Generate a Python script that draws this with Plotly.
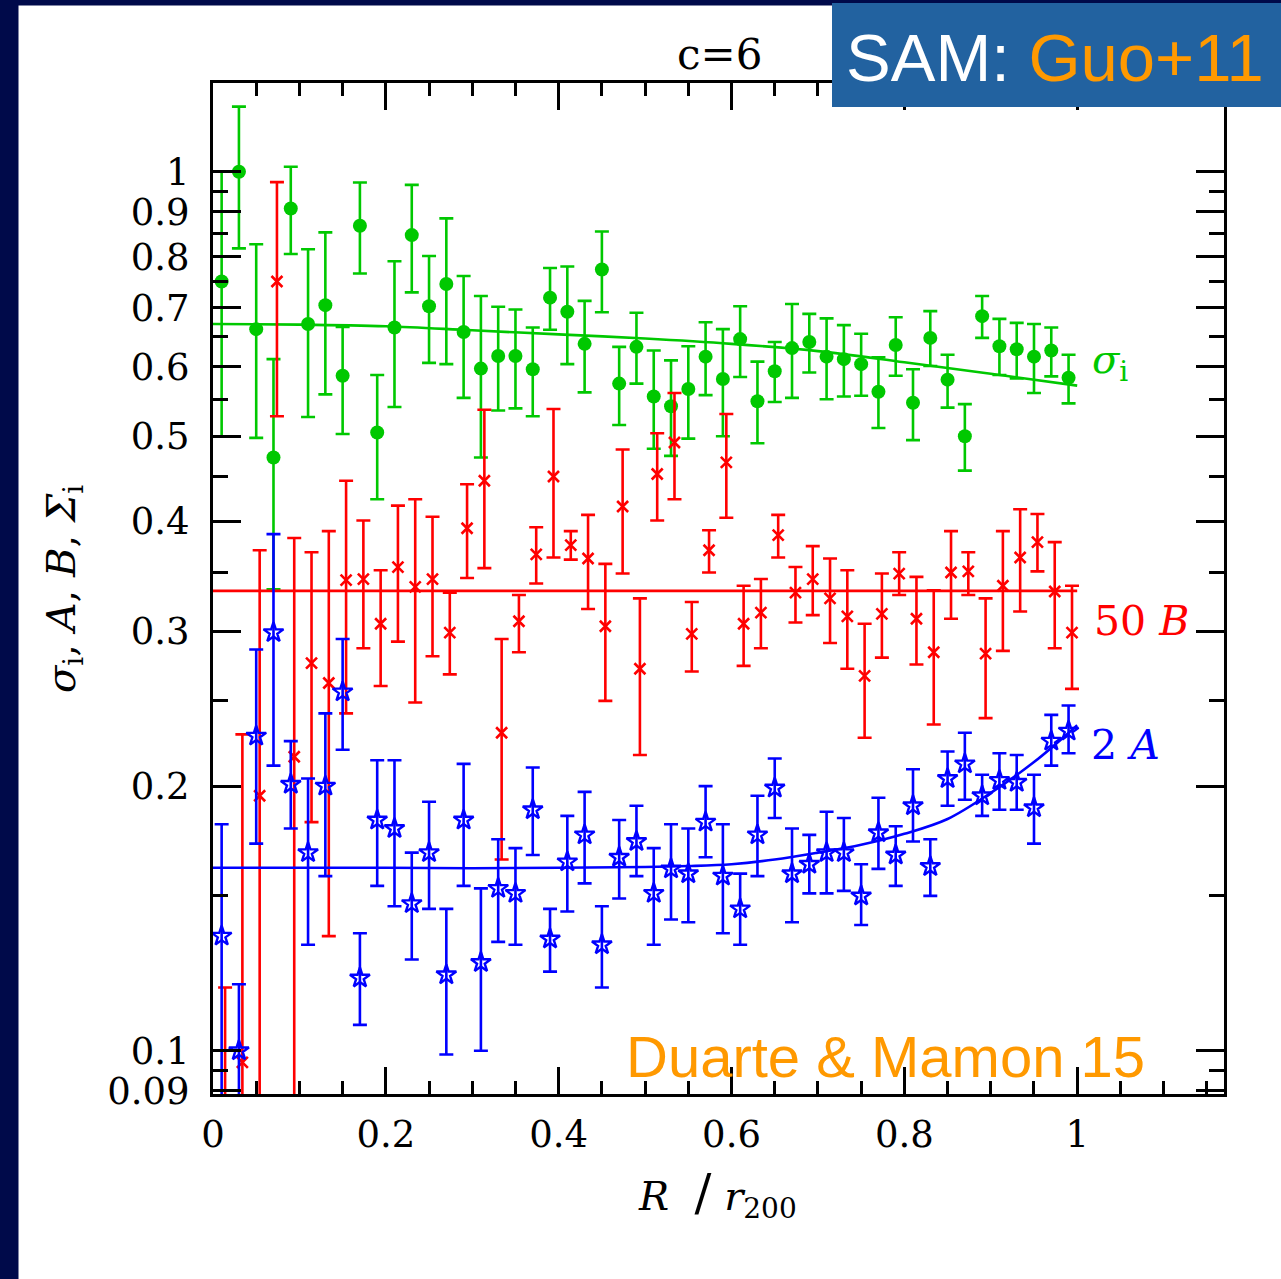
import numpy as np
import plotly.graph_objects as go

# ---- data -----------------------------------------------------------------
R = [round(0.01 + 0.02 * i, 3) for i in range(50)]          # bin centres, R / r200
R_B = [round(r + 0.004, 3) for r in R]                      # 50B drawn slightly shifted

sigma = [0.750, 1.000, 0.662, 0.473, 0.908, 0.671, 0.705, 0.586, 0.868, 0.505,
         0.665, 0.847, 0.703, 0.745, 0.657, 0.597, 0.617, 0.617, 0.596, 0.719,
         0.693, 0.637, 0.774, 0.574, 0.632, 0.555, 0.541, 0.566, 0.616, 0.581,
         0.645, 0.548, 0.593, 0.630, 0.640, 0.616, 0.612, 0.604, 0.562, 0.635,
         0.546, 0.647, 0.580, 0.500, 0.685, 0.633, 0.628, 0.616, 0.626, 0.583]
sigma_hi = [1.000, 1.186, 0.827, 0.612, 1.013, 0.816, 0.853, 0.666, 0.972, 0.587,
            0.791, 0.966, 0.802, 0.885, 0.761, 0.722, 0.702, 0.697, 0.665, 0.777,
            0.780, 0.713, 0.855, 0.632, 0.691, 0.626, 0.610, 0.633, 0.674, 0.662,
            0.703, 0.608, 0.640, 0.707, 0.689, 0.681, 0.669, 0.654, 0.615, 0.683,
            0.596, 0.694, 0.619, 0.544, 0.722, 0.680, 0.673, 0.671, 0.665, 0.619]
sigma_lo = [0.500, 0.818, 0.498, 0.335, 0.806, 0.526, 0.558, 0.503, 0.766, 0.424,
            0.540, 0.729, 0.606, 0.604, 0.553, 0.473, 0.535, 0.538, 0.527, 0.661,
            0.604, 0.561, 0.692, 0.515, 0.574, 0.484, 0.475, 0.497, 0.557, 0.500,
            0.584, 0.491, 0.547, 0.553, 0.591, 0.551, 0.555, 0.556, 0.511, 0.586,
            0.495, 0.601, 0.539, 0.457, 0.647, 0.587, 0.582, 0.560, 0.585, 0.545]

B50 = [0.075, 0.097, 0.195, 0.750, 0.216, 0.276, 0.262, 0.343, 0.344, 0.306,
       0.355, 0.337, 0.344, 0.299, 0.393, 0.445, 0.230, 0.308, 0.367, 0.450,
       0.376, 0.363, 0.304, 0.416, 0.272, 0.453, 0.492, 0.298, 0.371, 0.467,
       0.306, 0.315, 0.386, 0.332, 0.344, 0.327, 0.312, 0.267, 0.314, 0.349,
       0.310, 0.284, 0.350, 0.351, 0.283, 0.338, 0.364, 0.379, 0.333, 0.299]
B50_hi = [0.118, 0.229, 0.371, 0.973, 0.383, 0.369, 0.390, 0.445, 0.401, 0.352,
          0.417, 0.424, 0.405, 0.332, 0.441, 0.536, 0.294, 0.330, 0.394, 0.537,
          0.390, 0.407, 0.358, 0.483, 0.327, 0.504, 0.560, 0.324, 0.391, 0.530,
          0.338, 0.344, 0.407, 0.355, 0.375, 0.363, 0.352, 0.306, 0.349, 0.369,
          0.346, 0.334, 0.390, 0.369, 0.327, 0.390, 0.413, 0.408, 0.379, 0.338]
B50_lo = [0.040, 0.040, 0.050, 0.527, 0.050, 0.182, 0.135, 0.242, 0.287, 0.260,
          0.292, 0.249, 0.281, 0.268, 0.345, 0.354, 0.165, 0.284, 0.340, 0.364,
          0.362, 0.318, 0.250, 0.349, 0.217, 0.401, 0.424, 0.270, 0.350, 0.404,
          0.274, 0.287, 0.364, 0.307, 0.313, 0.291, 0.272, 0.227, 0.280, 0.330,
          0.275, 0.235, 0.310, 0.330, 0.239, 0.285, 0.316, 0.351, 0.287, 0.258]

A2 = [0.135, 0.100, 0.228, 0.299, 0.201, 0.168, 0.200, 0.256, 0.121, 0.183,
      0.179, 0.147, 0.168, 0.122, 0.183, 0.126, 0.153, 0.151, 0.188, 0.134,
      0.164, 0.176, 0.132, 0.166, 0.173, 0.151, 0.161, 0.159, 0.182, 0.158,
      0.145, 0.176, 0.199, 0.159, 0.163, 0.168, 0.168, 0.150, 0.177, 0.167,
      0.190, 0.162, 0.204, 0.212, 0.195, 0.203, 0.202, 0.189, 0.225, 0.231]
A2_hi = [0.181, 0.119, 0.286, 0.387, 0.225, 0.204, 0.242, 0.294, 0.136, 0.214,
         0.214, 0.168, 0.192, 0.145, 0.212, 0.153, 0.174, 0.170, 0.210, 0.145,
         0.185, 0.197, 0.146, 0.183, 0.190, 0.170, 0.181, 0.179, 0.200, 0.181,
         0.159, 0.195, 0.215, 0.179, 0.176, 0.187, 0.184, 0.163, 0.194, 0.180,
         0.209, 0.174, 0.219, 0.230, 0.206, 0.218, 0.217, 0.206, 0.241, 0.247]
A2_lo = [0.060, 0.060, 0.172, 0.211, 0.179, 0.132, 0.158, 0.220, 0.107, 0.154,
         0.146, 0.127, 0.145, 0.099, 0.154, 0.100, 0.133, 0.132, 0.167, 0.123,
         0.144, 0.155, 0.118, 0.149, 0.158, 0.132, 0.141, 0.140, 0.166, 0.136,
         0.132, 0.158, 0.184, 0.140, 0.151, 0.151, 0.152, 0.139, 0.161, 0.154,
         0.173, 0.150, 0.190, 0.193, 0.185, 0.188, 0.188, 0.172, 0.211, 0.218]

# best-fit model curves
fit_R_sigma = [0.0, 0.1, 0.2, 0.3, 0.4, 0.5, 0.6, 0.7, 0.8, 0.9, 1.0]
fit_sigma = [0.671, 0.670, 0.667, 0.660, 0.653, 0.646, 0.637, 0.625, 0.607, 0.589, 0.571]
fit_R_B = [0.0, 1.0]
fit_B50 = [0.3335, 0.3335]
fit_R_A = [0.0, 0.1, 0.2, 0.3, 0.4, 0.5, 0.55, 0.6, 0.65, 0.7, 0.75, 0.8, 0.85, 0.9, 0.95, 1.0]
fit_A2 = [0.1615, 0.1615, 0.1615, 0.1613, 0.1615, 0.1618, 0.1622, 0.163, 0.165, 0.168,
          0.1715, 0.1765, 0.1835, 0.1965, 0.213, 0.2346]

# axis ticks
x_major = [0, 0.2, 0.4, 0.6, 0.8, 1.0]
x_major_text = ["0", "0.2", "0.4", "0.6", "0.8", "1"]
x_minor = [0.05, 0.1, 0.15, 0.25, 0.3, 0.35, 0.45, 0.5, 0.55, 0.65, 0.7, 0.75,
           0.85, 0.9, 0.95, 1.05, 1.1, 1.15]
y_major = [0.09, 0.1, 0.2, 0.3, 0.4, 0.5, 0.6, 0.7, 0.8, 0.9, 1.0]
y_major_text = ["0.09", "0.1", "0.2", "0.3", "0.4", "0.5", "0.6", "0.7", "0.8", "0.9", "1"]
y_minor = [0.095, 0.15, 0.25, 0.35, 0.45, 0.55, 0.65, 0.75, 0.85, 0.95]

# ---- layout geometry ------------------------------------------------------
W, H = 1281, 1279
L, Rm, T, Bm = 213, 57, 83, 185
PW, PH = W - L - Rm, H - T - Bm

def px(xp):
    return (xp - L) / PW

def py(yp):
    return (H - Bm - yp) / PH

GREEN, RED, BLUE = "#00c800", "#ff0000", "#0000ff"
ORANGE, NAVY, BOX = "#ff9900", "#000a4a", "#2262a0"
SERIF = "DejaVu Serif"
SANS = "Liberation Sans"

def errs(c, hi, lo):
    c, hi, lo = map(np.asarray, (c, hi, lo))
    return (hi - c).tolist(), (c - lo).tolist()

fig = go.Figure()

# sigma_i : filled circles
up, dn = errs(sigma, sigma_hi, sigma_lo)
fig.add_trace(go.Scatter(
    x=R, y=sigma, mode="markers",
    marker=dict(symbol="circle", size=14, color=GREEN),
    error_y=dict(type="data", symmetric=False, array=up, arrayminus=dn,
                 color=GREEN, thickness=2.6, width=7)))
fig.add_trace(go.Scatter(x=fit_R_sigma, y=fit_sigma, mode="lines",
                         line=dict(color=GREEN, width=2.6, shape="spline")))

# 50 B : crosses
up, dn = errs(B50, B50_hi, B50_lo)
fig.add_trace(go.Scatter(
    x=R_B, y=B50, mode="markers",
    marker=dict(symbol="x-thin", size=11, color=RED, line=dict(color=RED, width=2.6)),
    error_y=dict(type="data", symmetric=False, array=up, arrayminus=dn,
                 color=RED, thickness=2.6, width=7)))
fig.add_trace(go.Scatter(x=fit_R_B, y=fit_B50, mode="lines",
                         line=dict(color=RED, width=2.6)))

# 2 A : open stars
up, dn = errs(A2, A2_hi, A2_lo)
fig.add_trace(go.Scatter(
    x=R, y=A2, mode="markers",
    marker=dict(symbol="star-open", size=15, color=BLUE, line=dict(color=BLUE, width=2.4)),
    error_y=dict(type="data", symmetric=False, array=up, arrayminus=dn,
                 color=BLUE, thickness=2.6, width=7)))
fig.add_trace(go.Scatter(x=fit_R_A, y=fit_A2, mode="lines",
                         line=dict(color=BLUE, width=2.6, shape="spline")))

axis_common = dict(
    showline=True, linecolor="black", linewidth=3, mirror="allticks",
    ticks="inside", tickcolor="black", tickwidth=2.6, showgrid=False, zeroline=False,
    tickfont=dict(family=SERIF, size=37, color="black"),
)

fig.update_xaxes(
    range=[0, PW / 864.2], tickmode="array", tickvals=x_major, ticktext=x_major_text,
    ticklen=27, ticklabelstandoff=6,
    minor=dict(tickmode="array", tickvals=x_minor, ticklen=13, tickwidth=2.6,
               tickcolor="black", ticks="inside", showgrid=False),
    **axis_common)

y_lo = -(H - Bm - 171.7) / 879.0
y_hi = (171.7 - T) / 879.0
fig.update_yaxes(
    type="log", range=[y_lo, y_hi], tickmode="array", tickvals=y_major,
    ticktext=y_major_text, ticklen=28, ticklabelstandoff=13,
    minor=dict(tickmode="array", tickvals=y_minor, ticklen=15, tickwidth=2.6,
               tickcolor="black", ticks="inside", showgrid=False),
    **axis_common)

shapes = [
    # dark frame on the left and top of the page
    dict(type="rect", xref="paper", yref="paper", layer="above",
         x0=px(0), x1=px(18.5), y0=py(H), y1=py(0), fillcolor=NAVY, line_width=0),
    dict(type="rect", xref="paper", yref="paper", layer="above",
         x0=px(0), x1=px(W), y0=py(5.5), y1=py(0), fillcolor=NAVY, line_width=0),
    # banner box
    dict(type="rect", xref="paper", yref="paper", layer="above",
         x0=px(832), x1=px(W), y0=py(107), y1=py(3), fillcolor=BOX, line_width=0),
]

annotations = [
    dict(text="c=6", x=px(719), y=py(54), xanchor="center", yanchor="middle",
         font=dict(family=SERIF, size=42, color="black")),
    dict(text="SAM: <span style='color:%s'>Guo+11</span>" % ORANGE,
         x=px(844), y=py(57), xanchor="left", yanchor="middle",
         font=dict(family=SANS, size=67, color="white")),
    dict(text="Duarte &amp; Mamon 15", x=px(624), y=py(1056), xanchor="left",
         yanchor="middle", font=dict(family=SANS, size=58, color=ORANGE)),
    dict(text="<i>σ</i><sub>i</sub>", x=px(1090), y=py(362), xanchor="left",
         yanchor="middle", font=dict(family=SERIF, size=40, color=GREEN)),
    dict(text="50 <i>B</i>", x=px(1092), y=py(621), xanchor="left",
         yanchor="middle", font=dict(family=SERIF, size=41, color=RED)),
    dict(text="2 <i>A</i>", x=px(1089), y=py(745), xanchor="left",
         yanchor="middle", font=dict(family=SERIF, size=41, color=BLUE)),
    dict(text="<i>σ</i><sub>i</sub>, <i>A</i>, <i>B</i>, <i>Σ</i><sub>i</sub>",
         x=px(64), y=py(589), xanchor="center", yanchor="middle", textangle=-90,
         font=dict(family=SERIF, size=40, color="black")),
    dict(text="<i>R</i>  <span style='font-size:50px'>/</span> <i>r</i><sub>200</sub>",
         x=px(717), y=py(1194), xanchor="center", yanchor="middle",
         font=dict(family=SERIF, size=40, color="black")),
]
for a in annotations:
    a.update(xref="paper", yref="paper", showarrow=False)

fig.update_layout(
    width=W, height=H, margin=dict(l=L, r=Rm, t=T, b=Bm, pad=0),
    paper_bgcolor="white", plot_bgcolor="white", showlegend=False,
    shapes=shapes, annotations=annotations,
)

fig.write_html("out.html")
